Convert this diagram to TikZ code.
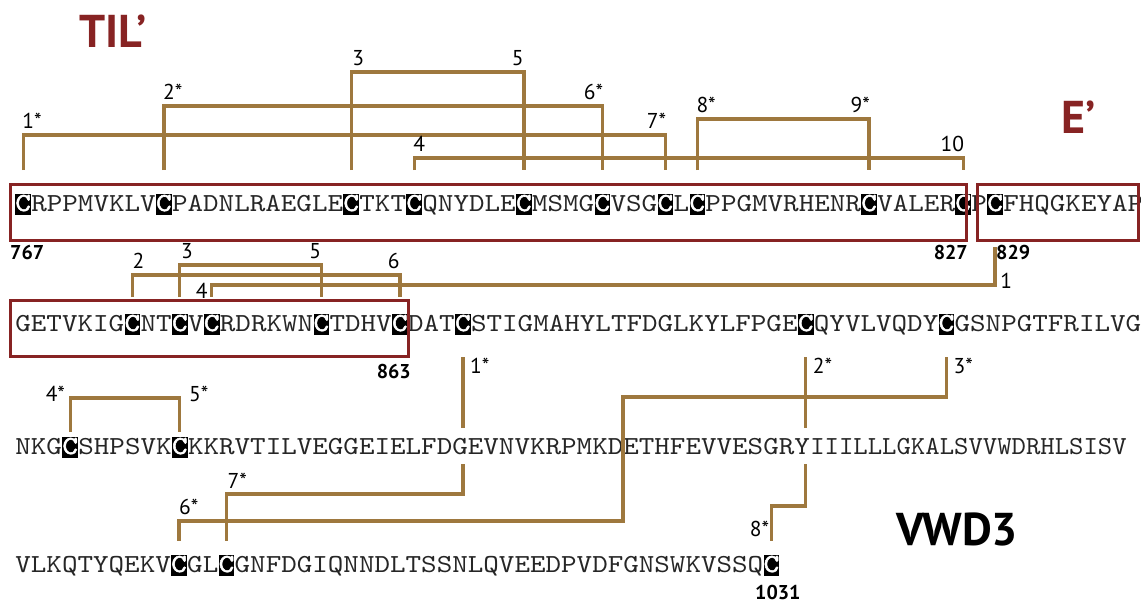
\documentclass[tikz,border=0pt]{standalone}
\usepackage{fontspec}
\usepackage{graphicx}
\setmainfont{PT Sans}
\newfontfamily\seqf{lmmono10-regular.otf}[FakeStretch=1.139]
\newfontfamily\seqfb{lmmono10-regular.otf}[FakeStretch=1.139, FakeBold=2]
\newfontfamily\lbf{PT Sans}
\definecolor{bondc}{RGB}{158,120,62}
\definecolor{domc}{RGB}{135,35,35}
\newcommand\seqfont{\seqf\fontsize{26pt}{30pt}\selectfont}
\newcommand\seqfontb{\seqfb\fontsize{26pt}{30pt}\selectfont}
\newcommand\labfont{\lbf\fontsize{21.5pt}{23pt}\selectfont}
\newcommand\numfont{\lbf\bfseries\fontsize{20pt}{22pt}\selectfont}
\newcommand\ttlfont{\lbf\bfseries\fontsize{46pt}{50pt}\selectfont}
\tikzset{
  sq/.style={inner sep=0pt, anchor=base west, font=\seqfont, text=black!85},
  cb/.style={inner xsep=0pt, inner ysep=0pt, text height=17.5pt, text depth=3.5pt,
     fill=black, text=white, anchor=base west, font=\seqfontb},
  bond/.style={draw=bondc, line width=3.3pt},
  dom/.style={draw=domc, line width=3pt},
  lab/.style={inner sep=0pt, font=\labfont},
  num/.style={inner sep=0pt, font=\numfont},
  ttl/.style={inner sep=0pt, font=\ttlfont, text=domc}
}
\begin{document}
\begin{tikzpicture}[x=1pt,y=-1pt]
\useasboundingbox (0,0) rectangle (1141,606);
% ---------------- row 1 (baseline 211)
\node[cb] (r1c0) at (15.2,211) {C};
\node[sq] (r1s0) at (r1c0.base east) {RPPMVKLV};
\node[cb] (r1c9) at (r1s0.base east) {C};
\node[sq] (r1s9) at (r1c9.base east) {PADNLRAEGLE};
\node[cb] (r1c21) at (r1s9.base east) {C};
\node[sq] (r1s21) at (r1c21.base east) {TKT};
\node[cb] (r1c25) at (r1s21.base east) {C};
\node[sq] (r1s25) at (r1c25.base east) {QNYDLE};
\node[cb] (r1c32) at (r1s25.base east) {C};
\node[sq] (r1s32) at (r1c32.base east) {MSMG};
\node[cb] (r1c37) at (r1s32.base east) {C};
\node[sq] (r1s37) at (r1c37.base east) {VSG};
\node[cb] (r1c41) at (r1s37.base east) {C};
\node[sq] (r1s41) at (r1c41.base east) {L};
\node[cb] (r1c43) at (r1s41.base east) {C};
\node[sq] (r1s43) at (r1c43.base east) {PPGMVRHENR};
\node[cb] (r1c54) at (r1s43.base east) {C};
\node[sq] (r1s54) at (r1c54.base east) {VALER};
\node[cb] (r1c60) at (r1s54.base east) {C};
\node[sq] (r1s60) at (r1c60.base east) {P};
\node[cb] (r1c62) at (r1s60.base east) {C};
\node[sq] (r1s62) at (r1c62.base east) {FHQGKEYAP};
% ---------------- row 2 (baseline 331)
\node[sq] (r2s0) at (15.2,331) {GETVKIG};
\node[cb] (r2c7) at (r2s0.base east) {C};
\node[sq] (r2s7) at (r2c7.base east) {NT};
\node[cb] (r2c10) at (r2s7.base east) {C};
\node[sq] (r2s10) at (r2c10.base east) {V};
\node[cb] (r2c12) at (r2s10.base east) {C};
\node[sq] (r2s12) at (r2c12.base east) {RDRKWN};
\node[cb] (r2c19) at (r2s12.base east) {C};
\node[sq] (r2s19) at (r2c19.base east) {TDHV};
\node[cb] (r2c24) at (r2s19.base east) {C};
\node[sq] (r2s24) at (r2c24.base east) {DAT};
\node[cb] (r2c28) at (r2s24.base east) {C};
\node[sq] (r2s28) at (r2c28.base east) {STIGMAHYLTFDGLKYLFPGE};
\node[cb] (r2c50) at (r2s28.base east) {C};
\node[sq] (r2s50) at (r2c50.base east) {QYVLVQDY};
\node[cb] (r2c59) at (r2s50.base east) {C};
\node[sq] (r2s59) at (r2c59.base east) {GSNPGTFRILVG};
% ---------------- row 3 (baseline 454)
\node[sq] (r3s0) at (15.2,454) {NKG};
\node[cb] (r3c3) at (r3s0.base east) {C};
\node[sq] (r3s3) at (r3c3.base east) {SHPSVK};
\node[cb] (r3c10) at (r3s3.base east) {C};
\node[sq] (r3s10) at (r3c10.base east) {KKRVTILVEGGEIELFDGEVNVKRPMKDETHFEVVESGRY};
\node[sq] (r3s51) at (r3s10.base east) {\scalebox{0.925}[1]{IIILLLGKALSVVWDRHLSISV}};
% ---------------- row 4 (baseline 572)
\node[sq] (r4s0) at (15.2,572) {VLKQTYQEKV};
\node[cb] (r4c10) at (r4s0.base east) {C};
\node[sq] (r4s10) at (r4c10.base east) {GL};
\node[cb] (r4c13) at (r4s10.base east) {C};
\node[sq] (r4s13) at (r4c13.base east) {GNFDGIQNNDLTSSNLQVEEDPVDFGNSWKVSSQ};
\node[cb] (r4c48) at (r4s13.base east) {C};
% ---------------- domain boxes
\draw[dom] (10,184) rectangle (966,240);
\draw[dom] (977,184) rectangle (1138,240);
\draw[dom] (10,300) rectangle (408,356);
% ---------------- titles and residue numbers
\node[ttl] (til) at (113,31) {TIL’};
\node[ttl] (ep) at (1079,117) {E’};
\node[inner sep=0pt, font=\ttlfont] (vwd) at (957,529) {VWD3};
\node[num, anchor=base west] (n767) at (10,259) {767};
\node[num, anchor=base east] (n827) at (968,259) {827};
\node[num, anchor=base west] (n829) at (996,259) {829};
\node[num, anchor=base east] (n863) at (411,378) {863};
\node[num, anchor=base west] (n1031) at (755,599) {1031};
% ---------------- TIL' bonds
\draw[bond] (r1c0 |- 0,170) |- (r1c41 |- 0,135) -- (r1c41 |- 0,170);
\draw[bond] (r1c9 |- 0,170) |- (r1c37 |- 0,106) -- (r1c37 |- 0,170);
\draw[bond] (r1c21 |- 0,170) |- (r1c32 |- 0,72) -- (r1c32 |- 0,170);
\draw[bond] (r1c25 |- 0,170) |- (r1c60 |- 0,158) -- (r1c60 |- 0,170);
\draw[bond] (r1c43 |- 0,170) |- (r1c54 |- 0,119) -- (r1c54 |- 0,170);
\node[lab, anchor=base west, xshift=-1pt] (b1a) at (r1c0 |- 0,128) {1*};
\node[lab, anchor=base east, xshift=1pt] (b1b) at (r1c41 |- 0,128) {7*};
\node[lab, anchor=base west, xshift=-1pt] (b2a) at (r1c9 |- 0,99) {2*};
\node[lab, anchor=base east, xshift=1pt] (b2b) at (r1c37 |- 0,99) {6*};
\node[lab, anchor=base west, xshift=1pt] (b3a) at (r1c21 |- 0,65) {3};
\node[lab, anchor=base east, xshift=0pt] (b3b) at (r1c32 |- 0,65) {5};
\node[lab, anchor=base west, xshift=-1pt] (b4a) at (r1c25 |- 0,151) {4};
\node[lab, anchor=base east, xshift=1pt] (b4b) at (r1c60 |- 0,151) {10};
\node[lab, anchor=base west, xshift=-1pt] (b5a) at (r1c43 |- 0,112) {8*};
\node[lab, anchor=base east, xshift=1pt] (b5b) at (r1c54 |- 0,112) {9*};
% ---------------- E' / TIL' bonds in row 2
\draw[bond] (r2c7 |- 0,297) |- (r2c24 |- 0,275) -- (r2c24 |- 0,297);
\draw[bond] (r2c10 |- 0,297) |- (r2c19 |- 0,265) -- (r2c19 |- 0,297);
\draw[bond] (r1c62 |- 0,247) |- (r2c12 |- 0,285) -- (r2c12 |- 0,297);
\node[lab, anchor=base west, xshift=0pt] (e2a) at (r2c7 |- 0,268) {2};
\node[lab, anchor=base east, xshift=0pt] (e2b) at (r2c24 |- 0,268) {6};
\node[lab, anchor=base west, xshift=1pt] (e3a) at (r2c10 |- 0,258) {3};
\node[lab, anchor=base east, xshift=0pt] (e3b) at (r2c19 |- 0,258) {5};
\node[lab, anchor=base east, xshift=-4pt] (e4a) at (r2c12 |- 0,298) {4};
\node[lab, anchor=base west, xshift=5pt] (e1b) at (r1c62 |- 0,288) {1};
% ---------------- VWD3 bonds
\draw[bond] (r2c28 |- 0,357) -- (r2c28 |- 0,428)
            (r2c28 |- 0,464) |- (r4c13 |- 0,494) -- (r4c13 |- 0,541);
\draw[bond] (r2c50 |- 0,357) -- (r2c50 |- 0,428)
            (r2c50 |- 0,464) |- (r4c48 |- 0,506) -- (r4c48 |- 0,541);
\draw[bond] (r2c59 |- 0,357) |- (623,397) |- (r4c10 |- 0,521) -- (r4c10 |- 0,541);
\draw[bond] (r3c3 |- 0,432) |- (r3c10 |- 0,398) -- (r3c10 |- 0,432);
\node[lab, anchor=base west, xshift=7pt] (v1a) at (r2c28 |- 0,373) {1*};
\node[lab, anchor=base west, xshift=7pt] (v2a) at (r2c50 |- 0,373) {2*};
\node[lab, anchor=base west, xshift=7pt] (v3a) at (r2c59 |- 0,373) {3*};
\node[lab, anchor=base east, xshift=-5pt] (v4a) at (r3c3 |- 0,401) {4*};
\node[lab, anchor=base west, xshift=9pt] (v5a) at (r3c10 |- 0,401) {5*};
\node[lab, anchor=base west, xshift=1pt] (v7a) at (r4c13 |- 0,488) {7*};
\node[lab, anchor=base west, xshift=0pt] (v6a) at (r4c10 |- 0,514) {6*};
\node[lab, anchor=base east, xshift=-2pt] (v8a) at (r4c48 |- 0,536) {8*};
\end{tikzpicture}
\end{document}
